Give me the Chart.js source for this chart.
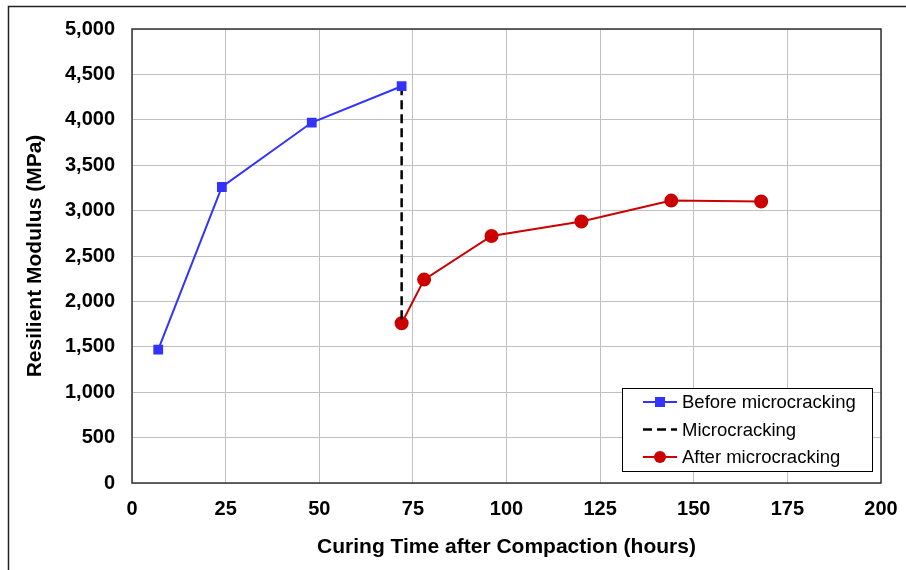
<!DOCTYPE html>
<html lang="en">
<head>
    <meta charset="UTF-8">
    <title>Resilient Modulus vs Curing Time</title>
    <script src="https://cdn.jsdelivr.net/npm/chart.js@4.4.1/dist/chart.umd.min.js"></script>
    <style>
        body { margin: 0; background: #ffffff; }
        .chart-container { width: 906px; height: 570px; position: relative; }
    </style>
</head>
<body>
    <div class="chart-container">
        <canvas id="modulusChart"></canvas>
    </div>

    <script>
        // hours after compaction / resilient modulus (MPa)
        const beforeHours = [7, 24, 48, 72];
        const beforeModulus = [1470, 3260, 3970, 4370];

        const crackHours = [72, 72];
        const crackModulus = [4370, 1760];

        const afterHours = [72, 78, 96, 120, 144, 168];
        const afterModulus = [1760, 2240, 2720, 2880, 3110, 3100];

        const xTicks = [0, 25, 50, 75, 100, 125, 150, 175, 200];
        const yTicks = [0, 500, 1000, 1500, 2000, 2500, 3000, 3500, 4000, 4500, 5000];

        const seriesLabels = ['Before microcracking', 'Microcracking', 'After microcracking'];

        function toPoints(xs, ys) {
            return xs.map((x, i) => ({ x: x, y: ys[i] }));
        }

        const FONT = "'Liberation Sans', Arial, sans-serif";

        // frame around the picture and border around the plot area
        const framePlugin = {
            id: 'frame',
            beforeDraw(chart) {
                const ctx = chart.ctx;
                ctx.save();
                ctx.fillStyle = '#ffffff';
                ctx.fillRect(0, 0, chart.width, chart.height);
                ctx.strokeStyle = '#222222';
                ctx.lineWidth = 1.5;
                ctx.beginPath();
                ctx.moveTo(8.5, chart.height);
                ctx.lineTo(8.5, 6.5);
                ctx.lineTo(chart.width, 6.5);
                ctx.stroke();
                ctx.restore();
            },
            afterDatasetsDraw(chart) {
                const a = chart.chartArea;
                const ctx = chart.ctx;
                ctx.save();
                ctx.strokeStyle = '#333333';
                ctx.lineWidth = 1.5;
                ctx.strokeRect(a.left, a.top, a.right - a.left, a.bottom - a.top);
                ctx.restore();
            }
        };

        // legend box inside the plot, lower right
        const boxLegendPlugin = {
            id: 'boxLegend',
            afterDraw(chart) {
                const a = chart.chartArea;
                const ctx = chart.ctx;
                const w = 250, h = 83;
                const x0 = a.right - 259, y0 = a.bottom - 95;
                ctx.save();
                ctx.fillStyle = '#ffffff';
                ctx.fillRect(x0, y0, w, h);
                ctx.strokeStyle = '#000000';
                ctx.lineWidth = 1;
                ctx.strokeRect(x0 + 0.5, y0 + 0.5, w, h);
                ctx.font = '18.5px ' + FONT;
                ctx.textBaseline = 'middle';
                chart.data.datasets.forEach((ds, i) => {
                    const y = y0 + 14 + i * 27.5;
                    const lx = x0 + 21, rx = x0 + 55;
                    ctx.strokeStyle = ds.borderColor;
                    ctx.lineWidth = ds.borderWidth;
                    ctx.setLineDash(ds.borderDash || []);
                    ctx.beginPath();
                    ctx.moveTo(lx, y);
                    ctx.lineTo(rx, y);
                    ctx.stroke();
                    ctx.setLineDash([]);
                    ctx.fillStyle = ds.pointBackgroundColor;
                    if (ds.pointStyle === 'rect') {
                        ctx.fillRect((lx + rx) / 2 - 5, y - 5, 10, 10);
                    } else if (ds.pointStyle === 'circle') {
                        ctx.beginPath();
                        ctx.arc((lx + rx) / 2, y, 6, 0, Math.PI * 2);
                        ctx.fill();
                    }
                    ctx.fillStyle = '#000000';
                    ctx.fillText(ds.label, x0 + 60, y + 1);
                });
                ctx.restore();
            }
        };

        const ctx = document.getElementById('modulusChart').getContext('2d');
        new Chart(ctx, {
            type: 'line',
            data: {
                datasets: [{
                    label: seriesLabels[0],
                    data: toPoints(beforeHours, beforeModulus),
                    borderColor: '#3333ff',
                    backgroundColor: '#3333ff',
                    pointBackgroundColor: '#3333ff',
                    pointBorderColor: '#3333ff',
                    pointStyle: 'rect',
                    pointRadius: 5.5,
                    borderWidth: 2,
                    tension: 0
                }, {
                    label: seriesLabels[1],
                    data: toPoints(crackHours, crackModulus),
                    borderColor: '#000000',
                    backgroundColor: '#000000',
                    pointBackgroundColor: '#000000',
                    pointStyle: false,
                    pointRadius: 0,
                    borderWidth: 2.5,
                    borderDash: [9, 5]
                }, {
                    label: seriesLabels[2],
                    data: toPoints(afterHours, afterModulus),
                    borderColor: '#cc0000',
                    backgroundColor: '#cc0000',
                    pointBackgroundColor: '#cc0000',
                    pointBorderColor: '#cc0000',
                    pointStyle: 'circle',
                    pointRadius: 6,
                    borderWidth: 2,
                    tension: 0
                }]
            },
            options: {
                responsive: true,
                maintainAspectRatio: false,
                animation: false,
                layout: { padding: { top: 29, right: 25, left: 0, bottom: 0 } },
                plugins: {
                    legend: { display: false },
                    tooltip: { enabled: false }
                },
                scales: {
                    x: {
                        type: 'linear',
                        min: 0,
                        max: 200,
                        afterBuildTicks: (scale) => { scale.ticks = xTicks.map(v => ({ value: v })); },
                        afterFit: (scale) => {
                            scale.height = 87;
                            // keep the last tick label from shrinking the plot area
                            scale.paddingLeft = 0;
                            scale.paddingRight = 0;
                        },
                        grid: { color: '#c0c0c0', lineWidth: 1, drawTicks: false },
                        border: { display: false },
                        ticks: {
                            color: '#000000',
                            padding: 14,
                            font: { family: FONT, size: 20, weight: 'bold' }
                        },
                        title: {
                            display: true,
                            text: 'Curing Time after Compaction (hours)',
                            color: '#000000',
                            padding: { top: 14, bottom: 10 },
                            font: { family: FONT, size: 21, weight: 'bold' }
                        }
                    },
                    y: {
                        min: 0,
                        max: 5000,
                        afterBuildTicks: (scale) => { scale.ticks = yTicks.map(v => ({ value: v })); },
                        afterFit: (scale) => { scale.width = 132; },
                        grid: { color: '#c0c0c0', lineWidth: 1, drawTicks: false },
                        border: { display: false },
                        ticks: {
                            color: '#000000',
                            padding: 17,
                            font: { family: FONT, size: 20, weight: 'bold' },
                            callback: (value) => value.toLocaleString('en-US')
                        },
                        title: {
                            display: true,
                            text: 'Resilient Modulus (MPa)',
                            color: '#000000',
                            padding: { top: 23, bottom: 0 },
                            font: { family: FONT, size: 21, weight: 'bold' }
                        }
                    }
                }
            },
            plugins: [framePlugin, boxLegendPlugin]
        });
    </script>
</body>
</html>
